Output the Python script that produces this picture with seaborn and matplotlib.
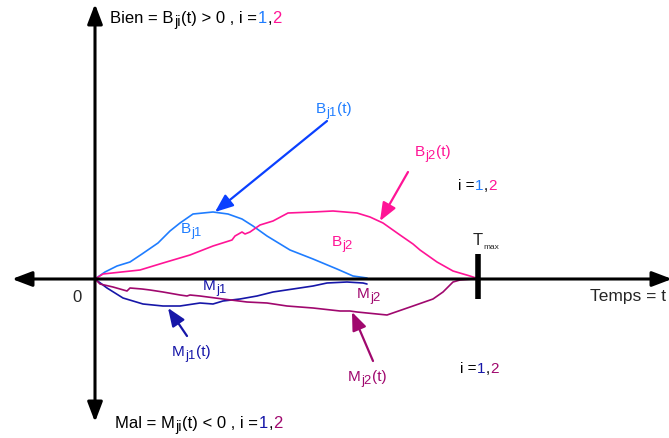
import pandas as pd
import matplotlib
matplotlib.use("Agg")
import matplotlib.pyplot as plt
import matplotlib.transforms as mtransforms
import seaborn as sns

sns.set_style("white")
plt.rcParams["font.family"] = ["Liberation Sans", "DejaVu Sans"]

# curves (t, value); origin is the crossing of the axes
t_b1 = [0, 10, 22, 35, 47, 63, 75, 85, 98, 118, 133, 147, 158, 172, 195, 218, 242, 258, 272]
b1 = [0, 7, 13, 17, 25, 36, 48, 56, 65, 67, 65, 60, 53, 43, 29, 20, 10, 3, 1]

t_b2 = [0, 8, 45, 68, 95, 118, 137, 140, 147, 150, 155, 165, 178, 193, 218, 238, 262,
        275, 288, 305, 318, 325, 342, 358, 375, 381]
b2 = [0, 5, 9, 16, 24, 33, 39, 43, 47, 45, 47, 54, 58, 66, 67, 68, 66,
      62, 56, 44, 35, 29, 17, 8, 3, 1]

t_m1 = [0, 12, 28, 48, 68, 85, 105, 118, 128, 145, 162, 178, 198, 218, 232, 252, 268, 272]
m1 = [0, -9, -19, -25, -27, -27, -24, -25, -22, -20, -17, -13, -10, -7, -4, -3, -4, -5]

t_m2 = [0, 5, 18, 32, 35, 47, 55, 68, 85, 92, 95, 105, 128, 152, 172, 192, 218, 245,
        255, 262, 292, 318, 338, 348, 358, 365, 378]
m2 = [0, -5, -8, -12, -9, -10, -11, -13, -16, -17, -16, -17, -20, -23, -24, -27, -29, -32,
      -32, -33, -36, -27, -20, -13, -3, -1, 0]

t_max = 383

# colours
c_b1 = "#1f7dff"
c_b1_arrow = "#0a40ff"
c_b2 = "#ff1496"
c_m1 = "#1616a8"
c_m2 = "#a0086e"

frames = []
for name, t, v in [("B1", t_b1, b1), ("B2", t_b2, b2), ("M1", t_m1, m1), ("M2", t_m2, m2)]:
    frames.append(pd.DataFrame({"t": t, "value": v, "curve": name}))
df = pd.concat(frames, ignore_index=True)

fig = plt.figure(figsize=(6.69, 4.39), dpi=100)
ax = fig.add_axes([0, 0, 1, 1])
ax.set_xlim(-95, 574)
ax.set_ylim(-159, 280)
ax.axis("off")

sns.lineplot(data=df, x="t", y="value", hue="curve",
             palette={"B1": c_b1, "B2": c_b2, "M1": c_m1, "M2": c_m2},
             estimator=None, sort=False, legend=False, lw=1.2, ax=ax)

# axes with arrows on both ends
axis_arrow = dict(arrowstyle="-|>,head_length=1.0,head_width=0.38", color="black",
                  lw=2.2, mutation_scale=12, shrinkA=0, shrinkB=0)
for tip in [(577, 0), (-83, 0), (0, 275), (0, -143)]:
    ax.annotate("", xy=tip, xytext=(0, 0), arrowprops=axis_arrow, annotation_clip=False)

# T max marker
ax.plot([t_max, t_max], [25, -20], color="black", lw=4, solid_capstyle="butt")
tt = ax.text(378, 35, "T", fontsize=12, va="baseline")
ax.annotate("max", xy=(1, 0), xycoords=tt, xytext=(0.5, -2), textcoords="offset points",
            fontsize=6, va="bottom")

renderer = fig.canvas.get_renderer()


def rich(x, y, parts, size):
    # parts: (text, colour, is_subscript)
    offset = 0
    for s, c, sub in parts:
        fs = size * 0.85 if sub else size
        dy = -size * 0.18 * fig.dpi / 72 if sub else 0
        tr = mtransforms.offset_copy(ax.transData, fig=fig, x=offset, y=dy, units="dots")
        t = ax.text(x, y, s, color=c, fontsize=fs, va="baseline", transform=tr)
        offset += t.get_window_extent(renderer).width + 0.5


k = "black"
rich(15, 257, [("Bien = B", k, 0), ("ji", k, 1), ("(t) > 0 , i =", k, 0),
               ("1", c_b1, 0), (",", k, 0), ("2", c_b2, 0)], 12)
rich(20, -148, [("Mal = M", k, 0), ("ji", k, 1), ("(t) < 0 , i =", k, 0),
                ("1", c_m1, 0), (",", k, 0), ("2", c_m2, 0)], 12)
rich(363, 90, [("i =", k, 0), ("1", c_b1, 0), (",", k, 0), ("2", c_b2, 0)], 11)
rich(365, -93, [("i =", k, 0), ("1", c_m1, 0), (",", k, 0), ("2", c_m2, 0)], 11)

ax.text(-23, -17, "0", fontsize=12, ha="left", va="center")
ax.text(495, -17, "Temps = t", fontsize=12.5, ha="left", va="center")

# curve names
rich(86, 47, [("B", c_b1, 0), ("j1", c_b1, 1)], 11)
rich(237, 34, [("B", c_b2, 0), ("j2", c_b2, 1)], 11)
rich(108, -10, [("M", c_m1, 0), ("j1", c_m1, 1)], 11)
rich(262, -18, [("M", c_m2, 0), ("j2", c_m2, 1)], 11)

# labels with pointers
pointer = dict(arrowstyle="-|>,head_length=1.0,head_width=0.4", lw=1.6,
               mutation_scale=11, shrinkA=0, shrinkB=0)
ax.annotate("", xy=(120, 67), xytext=(232, 158), arrowprops={**pointer, "color": c_b1_arrow})
rich(221, 167, [("B", c_b1, 0), ("j1", c_b1, 1), ("(t)", c_b1, 0)], 11)
ax.annotate("", xy=(285, 58), xytext=(313, 107), arrowprops={**pointer, "color": c_b2})
rich(320, 124, [("B", c_b2, 0), ("j2", c_b2, 1), ("(t)", c_b2, 0)], 11)
ax.annotate("", xy=(73, -29), xytext=(92, -57), arrowprops={**pointer, "color": c_m1})
rich(77, -76, [("M", c_m1, 0), ("j1", c_m1, 1), ("(t)", c_m1, 0)], 11)
ax.annotate("", xy=(257, -33), xytext=(278, -82), arrowprops={**pointer, "color": c_m2})
rich(253, -101, [("M", c_m2, 0), ("j2", c_m2, 1), ("(t)", c_m2, 0)], 11)

fig.savefig("out.png", dpi=100)
